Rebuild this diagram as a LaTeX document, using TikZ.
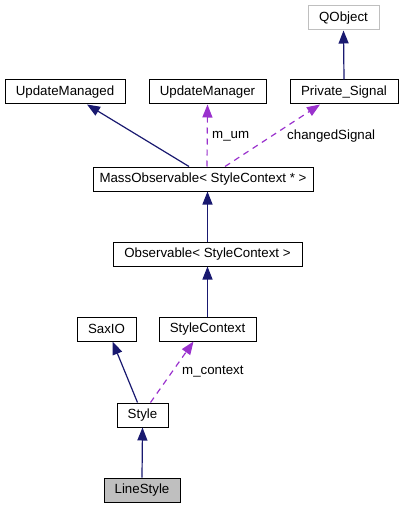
\documentclass[tikz,border=0pt]{standalone}
\usepackage{fontspec}
\setmainfont{Liberation Sans}
\usetikzlibrary{arrows.meta}
\definecolor{edgeblue}{HTML}{191970}
\definecolor{memberpurple}{HTML}{9A32CD}
\definecolor{greybox}{HTML}{BFBFBF}

\begin{document}
\begin{tikzpicture}[
    x=1pt, y=-1pt,
    box/.style={
        rectangle, draw=black, fill=white, line width=1pt,
        minimum height=24pt, inner sep=0pt,
        font=\fontsize{13.3}{16}\selectfont
    },
    inherit/.style={-{Triangle[length=13pt, width=10pt]}, line width=1.2pt, edgeblue},
    usage/.style={-{Triangle[length=13pt, width=10pt]}, line width=1.2pt, memberpurple, dash pattern=on 6pt off 5pt},
    lbl/.style={font=\fontsize{13.3}{16}\selectfont, inner sep=0pt, anchor=west}
]
    \useasboundingbox (0,0) rectangle (403,508);

    %% Top row
    \node[box, draw=greybox, minimum width=71pt] (qobj) at (343.5,18) {QObject};
    \node[box, minimum width=120pt] (managed) at (65,92) {UpdateManaged};
    \node[box, minimum width=117pt] (manager) at (207.5,92) {UpdateManager};
    \node[box, minimum width=108pt] (private) at (344,92) {Private\_Signal};

    %% Middle chain
    \node[box, minimum width=220pt] (mass) at (203,179) {MassObservable< StyleContext * >};
    \node[box, minimum width=189pt] (obs) at (207.5,254) {Observable< StyleContext >};
    \node[box, minimum width=59pt] (sax) at (106.5,329) {SaxIO};
    \node[box, minimum width=97pt] (ctx) at (207.5,329) {StyleContext};
    \node[box, minimum width=51pt] (style) at (142.5,415) {Style};
    \node[box, fill=greybox, minimum width=76pt] (line) at (142,490) {LineStyle};

    %% Member labels
    \node[lbl] (lum) at (212,136) {m\_um};
    \node[lbl] (lsig) at (287,136) {changedSignal};
    \node[lbl] (lctx) at (182,372) {m\_context};

    \draw[inherit] (private.north) -- (qobj.south);
    \draw[inherit] ([xshift=-14pt]mass.north) -- ([xshift=22pt]managed.south);
    \draw[usage] ([xshift=4pt]mass.north) -- (manager.south);
    \draw[usage] ([xshift=22pt]mass.north) -- ([xshift=-24pt]private.south);
    \draw[inherit] (obs.north) -- ([xshift=4.5pt]mass.south);
    \draw[inherit] (ctx.north) -- (obs.south);
    \draw[inherit] ([xshift=-5pt]style.north) -- ([xshift=6pt]sax.south);
    \draw[usage] ([xshift=8pt]style.north) -- ([xshift=-14pt]ctx.south);
    \draw[inherit] (line.north) -- (style.south);
\end{tikzpicture}
\end{document}
